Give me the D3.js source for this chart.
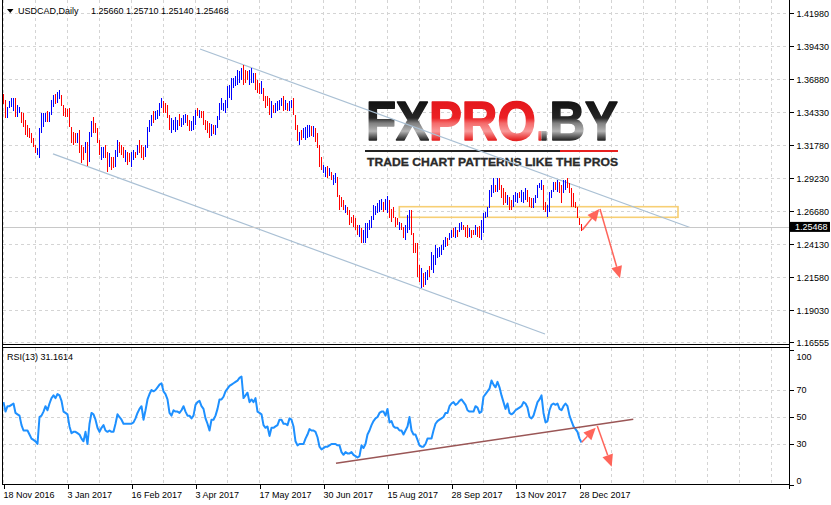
<!DOCTYPE html>
<html><head><meta charset="utf-8">
<script src="https://cdn.jsdelivr.net/npm/d3@7"></script>
<style>body{margin:0;background:#fff}svg{display:block}text{font-family:"Liberation Sans",Arial,sans-serif}</style>
</head><body><svg id="c" width="831" height="505"></svg>
<script>
const symbol = "USDCAD,Daily";
const open = [1.3559,1.3497,1.3404,1.3474,1.3489,1.3466,1.3513,1.3420,1.3435,1.3420,
1.3404,1.3350,1.3312,1.3296,1.3258,1.3219,1.3165,1.3111,1.3134,1.3312,
1.3343,1.3373,1.3428,1.3373,1.3435,1.3497,1.3559,1.3520,1.3551,1.3551,
1.3474,1.3451,1.3443,1.3435,1.3288,1.3258,1.3258,1.3211,1.3258,1.3149,
1.3142,1.3134,1.3157,1.3103,1.3273,1.3366,1.3335,1.3288,1.3196,1.3088,
1.3103,1.3157,1.3088,1.3033,1.3064,1.3072,1.3041,1.3118,1.3188,1.3165,
1.3149,1.3072,1.3103,1.3103,1.3033,1.3080,1.3118,1.3118,1.3196,1.3157,
1.3142,1.3111,1.3196,1.3304,1.3350,1.3420,1.3389,1.3397,1.3428,1.3482,
1.3497,1.3489,1.3466,1.3389,1.3296,1.3312,1.3304,1.3312,1.3397,1.3335,
1.3350,1.3366,1.3389,1.3358,1.3304,1.3319,1.3358,1.3451,1.3404,1.3428,
1.3420,1.3358,1.3343,1.3327,1.3273,1.3319,1.3273,1.3335,1.3404,1.3474,
1.3458,1.3451,1.3505,1.3567,1.3567,1.3636,1.3652,1.3675,1.3683,1.3706,
1.3760,1.3737,1.3737,1.3675,1.3690,1.3675,1.3706,1.3659,1.3644,1.3598,
1.3598,1.3536,1.3543,1.3513,1.3420,1.3474,1.3443,1.3458,1.3466,1.3497,
1.3536,1.3466,1.3489,1.3458,1.3482,1.3513,1.3389,1.3304,1.3203,1.3281,
1.3250,1.3242,1.3258,1.3265,1.3312,1.3265,1.3288,1.3250,1.3142,1.3064,
1.2979,1.2948,1.2995,1.2956,1.2956,1.2887,1.2902,1.2894,1.2763,1.2763,
1.2740,1.2670,1.2686,1.2655,1.2616,1.2616,1.2593,1.2546,1.2492,1.2515,
1.2446,1.2461,1.2485,1.2539,1.2562,1.2631,1.2655,1.2670,1.2686,1.2701,
1.2724,1.2701,1.2686,1.2724,1.2662,1.2686,1.2608,1.2608,1.2539,1.2570,
1.2531,1.2477,1.2531,1.2562,1.2631,1.2461,1.2407,1.2361,1.2222,1.2113,
1.2167,1.2121,1.2152,1.2229,1.2245,1.2222,1.2291,1.2322,1.2330,1.2345,
1.2384,1.2407,1.2446,1.2461,1.2477,1.2523,1.2485,1.2515,1.2523,1.2539,
1.2554,1.2531,1.2539,1.2485,1.2508,1.2515,1.2500,1.2531,1.2531,1.2485,
1.2539,1.2624,1.2639,1.2724,1.2801,1.2840,1.2863,1.2840,1.2902,1.2848,
1.2817,1.2801,1.2732,1.2755,1.2740,1.2724,1.2755,1.2747,1.2809,1.2763,
1.2755,1.2778,1.2809,1.2763,1.2755,1.2709,1.2747,1.2794,1.2856,1.2848,
1.2825,1.2724,1.2647,1.2701,1.2786,1.2832,1.2879,1.2840,1.2871,1.2840,
1.2832,1.2848,1.2910,1.2871,1.2817,1.2786,1.2732,1.2686,1.2608,1.25660];
const high = [1.3574,1.3528,1.3474,1.3520,1.3543,1.3543,1.3543,1.3489,1.3474,1.3435,
1.3428,1.3373,1.3335,1.3312,1.3273,1.3234,1.3180,1.3157,1.3312,1.3428,
1.3428,1.3428,1.3443,1.3435,1.3528,1.3567,1.3574,1.3590,1.3605,1.3567,
1.3489,1.3466,1.3458,1.3466,1.3319,1.3281,1.3273,1.3273,1.3296,1.3180,
1.3165,1.3203,1.3203,1.3281,1.3366,1.3397,1.3350,1.3312,1.3219,1.3165,
1.3165,1.3180,1.3126,1.3118,1.3088,1.3088,1.3142,1.3219,1.3203,1.3180,
1.3165,1.3142,1.3126,1.3118,1.3126,1.3142,1.3126,1.3180,1.3219,1.3180,
1.3165,1.3180,1.3319,1.3373,1.3412,1.3443,1.3443,1.3451,1.3505,1.3543,
1.3520,1.3505,1.3489,1.3412,1.3389,1.3373,1.3397,1.3373,1.3420,1.3389,
1.3412,1.3420,1.3412,1.3373,1.3366,1.3404,1.3451,1.3466,1.3451,1.3443,
1.3443,1.3373,1.3366,1.3350,1.3343,1.3335,1.3335,1.3404,1.3505,1.3543,
1.3505,1.3528,1.3636,1.3644,1.3698,1.3698,1.3714,1.3760,1.3752,1.3775,
1.3799,1.3760,1.3752,1.3760,1.3775,1.3737,1.3737,1.3683,1.3659,1.3675,
1.3621,1.3559,1.3559,1.3543,1.3520,1.3489,1.3505,1.3520,1.3528,1.3543,
1.3559,1.3528,1.3505,1.3520,1.3528,1.3543,1.3412,1.3335,1.3281,1.3296,
1.3312,1.3319,1.3335,1.3335,1.3327,1.3327,1.3312,1.3273,1.3180,1.3088,
1.3026,1.3010,1.3018,1.3003,1.2972,1.2948,1.2964,1.2933,1.2794,1.2778,
1.2755,1.2716,1.2701,1.2678,1.2624,1.2639,1.2616,1.2562,1.2562,1.2539,
1.2523,1.2577,1.2577,1.2600,1.2631,1.2716,1.2709,1.2732,1.2755,1.2763,
1.2740,1.2763,1.2786,1.2755,1.2686,1.2701,1.2624,1.2616,1.2585,1.2577,
1.2546,1.2562,1.2639,1.2678,1.2678,1.2500,1.2423,1.2423,1.2253,1.2229,
1.2191,1.2198,1.2214,1.2245,1.2353,1.2330,1.2407,1.2384,1.2392,1.2407,
1.2446,1.2469,1.2461,1.2500,1.2523,1.2539,1.2546,1.2523,1.2577,1.2585,
1.2562,1.2546,1.2562,1.2539,1.2523,1.2523,1.2562,1.2546,1.2554,1.2600,
1.2655,1.2662,1.2701,1.2832,1.2871,1.2925,1.2871,1.2925,1.2925,1.2871,
1.2848,1.2817,1.2794,1.2778,1.2755,1.2794,1.2817,1.2809,1.2817,1.2832,
1.2817,1.2848,1.2832,1.2778,1.2771,1.2771,1.2794,1.2871,1.2887,1.2910,
1.2871,1.2740,1.2716,1.2817,1.2832,1.2894,1.2894,1.2910,1.2894,1.2871,
1.2910,1.2910,1.2925,1.2887,1.2848,1.2809,1.2740,1.2701,1.2616,1.25710];
const low = [1.3497,1.3389,1.3389,1.3466,1.3474,1.3443,1.3397,1.3397,1.3428,1.3350,
1.3319,1.3258,1.3242,1.3234,1.3196,1.3165,1.3118,1.3103,1.3080,1.3273,
1.3319,1.3358,1.3358,1.3358,1.3412,1.3474,1.3497,1.3505,1.3536,1.3482,
1.3404,1.3397,1.3397,1.3319,1.3196,1.3180,1.3196,1.3196,1.3118,1.3041,
1.3064,1.3118,1.3018,1.3049,1.3242,1.3273,1.3273,1.3196,1.3103,1.3064,
1.3080,1.3080,1.2972,1.3010,1.2987,1.3003,1.3010,1.3088,1.3118,1.3103,
1.3080,1.3049,1.3026,1.3049,1.3010,1.3064,1.3080,1.3103,1.3118,1.3080,
1.3064,1.3088,1.3157,1.3281,1.3327,1.3350,1.3373,1.3381,1.3404,1.3466,
1.3428,1.3428,1.3389,1.3296,1.3273,1.3296,1.3281,1.3296,1.3327,1.3319,
1.3335,1.3350,1.3327,1.3288,1.3288,1.3296,1.3335,1.3404,1.3389,1.3389,
1.3335,1.3296,1.3273,1.3234,1.3250,1.3265,1.3258,1.3312,1.3373,1.3451,
1.3443,1.3428,1.3466,1.3543,1.3528,1.3621,1.3636,1.3644,1.3659,1.3683,
1.3644,1.3659,1.3683,1.3644,1.3659,1.3659,1.3605,1.3582,1.3574,1.3574,
1.3520,1.3466,1.3482,1.3412,1.3389,1.3428,1.3428,1.3443,1.3451,1.3482,
1.3443,1.3451,1.3443,1.3443,1.3466,1.3412,1.3296,1.3211,1.3180,1.3219,
1.3234,1.3219,1.3234,1.3242,1.3250,1.3242,1.3203,1.3157,1.3010,1.2987,
1.2964,1.2933,1.2925,1.2941,1.2910,1.2871,1.2887,1.2778,1.2678,1.2701,
1.2678,1.2655,1.2639,1.2562,1.2577,1.2546,1.2523,1.2485,1.2469,1.2423,
1.2423,1.2423,1.2461,1.2523,1.2539,1.2600,1.2639,1.2655,1.2662,1.2678,
1.2662,1.2678,1.2655,1.2616,1.2585,1.2616,1.2546,1.2562,1.2523,1.2523,
1.2461,1.2446,1.2500,1.2523,1.2485,1.2345,1.2345,1.2160,1.2121,1.2075,
1.2082,1.2098,1.2137,1.2160,1.2214,1.2191,1.2253,1.2307,1.2315,1.2330,
1.2369,1.2392,1.2400,1.2446,1.2461,1.2469,1.2461,1.2469,1.2508,1.2523,
1.2523,1.2469,1.2461,1.2469,1.2461,1.2485,1.2485,1.2469,1.2461,1.2446,
1.2500,1.2616,1.2624,1.2693,1.2778,1.2809,1.2817,1.2817,1.2832,1.2771,
1.2716,1.2732,1.2716,1.2678,1.2678,1.2701,1.2740,1.2732,1.2771,1.2740,
1.2732,1.2755,1.2740,1.2701,1.2693,1.2693,1.2732,1.2771,1.2848,1.2832,
1.2678,1.2662,1.2624,1.2662,1.2771,1.2817,1.2832,1.2817,1.2809,1.2732,
1.2809,1.2832,1.2848,1.2809,1.2701,1.2701,1.2693,1.2616,1.2562,1.25140];
const close = [1.3513,1.3420,1.3458,1.3513,1.3528,1.3520,1.3428,1.3466,1.3466,1.3366,
1.3343,1.3281,1.3265,1.3250,1.3211,1.3180,1.3134,1.3142,1.3258,1.3389,
1.3404,1.3412,1.3373,1.3420,1.3505,1.3543,1.3513,1.3574,1.3590,1.3497,
1.3420,1.3412,1.3412,1.3350,1.3227,1.3203,1.3211,1.3258,1.3157,1.3072,
1.3088,1.3188,1.3064,1.3227,1.3335,1.3304,1.3288,1.3219,1.3126,1.3142,
1.3142,1.3103,1.3010,1.3095,1.3010,1.3018,1.3111,1.3188,1.3134,1.3118,
1.3095,1.3118,1.3049,1.3064,1.3103,1.3126,1.3088,1.3165,1.3142,1.3103,
1.3088,1.3157,1.3281,1.3350,1.3397,1.3373,1.3428,1.3435,1.3482,1.3528,
1.3451,1.3443,1.3412,1.3319,1.3366,1.3358,1.3373,1.3358,1.3350,1.3373,
1.3397,1.3404,1.3350,1.3304,1.3350,1.3381,1.3428,1.3420,1.3435,1.3404,
1.3358,1.3312,1.3296,1.3258,1.3319,1.3281,1.3319,1.3381,1.3474,1.3520,
1.3489,1.3505,1.3598,1.3621,1.3659,1.3683,1.3698,1.3737,1.3729,1.3752,
1.3683,1.3683,1.3698,1.3737,1.3744,1.3721,1.3636,1.3605,1.3590,1.3652,
1.3543,1.3489,1.3497,1.3443,1.3489,1.3443,1.3489,1.3505,1.3513,1.3528,
1.3466,1.3513,1.3458,1.3505,1.3513,1.3443,1.3319,1.3242,1.3258,1.3234,
1.3296,1.3296,1.3312,1.3312,1.3265,1.3304,1.3227,1.3180,1.3049,1.3010,
1.3010,1.2995,1.2948,1.2987,1.2925,1.2933,1.2948,1.2817,1.2709,1.2716,
1.2693,1.2701,1.2655,1.2585,1.2585,1.2570,1.2546,1.2500,1.2539,1.2446,
1.2500,1.2539,1.2554,1.2585,1.2608,1.2686,1.2693,1.2716,1.2732,1.2747,
1.2678,1.2747,1.2755,1.2647,1.2608,1.2631,1.2562,1.2570,1.2570,1.2531,
1.2477,1.2531,1.2608,1.2639,1.2531,1.2384,1.2361,1.2222,1.2152,1.2191,
1.2106,1.2175,1.2198,1.2175,1.2322,1.2299,1.2369,1.2369,1.2376,1.2392,
1.2430,1.2454,1.2415,1.2485,1.2508,1.2485,1.2523,1.2485,1.2562,1.2570,
1.2531,1.2485,1.2485,1.2523,1.2477,1.2492,1.2546,1.2485,1.2485,1.2562,
1.2616,1.2655,1.2686,1.2801,1.2848,1.2902,1.2832,1.2902,1.2856,1.2794,
1.2747,1.2747,1.2778,1.2701,1.2693,1.2771,1.2801,1.2794,1.2778,1.2809,
1.2794,1.2825,1.2763,1.2716,1.2709,1.2755,1.2778,1.2848,1.2879,1.2894,
1.2724,1.2678,1.2693,1.2778,1.2817,1.2879,1.2848,1.2887,1.2832,1.2763,
1.2887,1.2894,1.2863,1.2825,1.2732,1.2724,1.2701,1.2631,1.2570,1.25468];
const rsi = [61,54,58,58,59,60,53,52,51,44,
40,40,40,37,34,33,32,30,50,51,
54,58,55,60,64,66,64,67,66,62,
54,53,52,43,38,39,39,38,37,34,
32,39,30,45,53,52,48,42,39,42,
44,40,39,40,39,39,45,52,50,48,
45,45,45,45,45,46,49,53,56,58,
48,55,63,67,70,69,70,72,74,75,
69,67,63,53,51,55,54,54,53,55,
58,54,51,51,49,51,59,61,62,58,
56,49,45,40,48,48,51,56,63,63,
65,69,71,73,74,75,76,77,79,80,
64,66,68,61,63,61,64,54,53,52,
44,42,43,36,42,42,43,44,48,48,
45,45,44,49,48,43,32,29,30,30,
30,34,37,41,40,40,39,35,28,26,
27,28,28,29,30,30,30,29,29,24,
22,24,23,23,24,22,21,20,21,29,
27,30,37,40,44,47,49,50,53,54,
54,51,56,46,47,43,42,42,40,40,
37,40,43,50,40,37,37,33,29,28,
28,30,34,34,34,40,45,47,48,49,
50,53,53,58,60,61,59,60,62,63,
61,59,55,54,54,54,58,57,53,54,
65,67,69,71,77,74,72,76,72,66,
61,56,60,53,52,53,55,56,57,58,
61,60,57,50,49,51,56,61,63,66,
53,46,47,55,59,60,59,60,56,55,
58,60,58,51,47,43,41,39,34,31.1614];
const dateLabels = ["18 Nov 2016","3 Jan 2017","16 Feb 2017","3 Apr 2017","17 May 2017","30 Jun 2017","15 Aug 2017","28 Sep 2017","13 Nov 2017","28 Dec 2017"];
const dateTickIdx = [0,32,64,96,128,160,192,224,256,288];
const priceTicks = [1.41980,1.39430,1.36880,1.34330,1.31780,1.29230,1.26680,1.24130,1.21580,1.19030,1.16555];
const rsiTicks = [100,70,50,30,0];
const rsiGrid = [70,50,30];
// drawn objects, in bar-index / price units
const channel = [{i0:98.25,p0:1.3922,i1:343.25,p1:1.2542},{i0:24.75,p0:1.3111,i1:270.75,p1:1.1719}];
const zone = {i0:197.9,i1:337.25,p0:1.2703,p1:1.2621};
const priceArrows = [{i0:289.4,p0:1.2523,i1:297.9,p1:1.2685},{i0:298.25,p0:1.2685,i1:308.25,p1:1.2150}];
const rsiLine = {i0:166.25,v0:15.7,i1:314.9,v1:48.3};
const rsiArrows = [{i0:289.1,v0:31.3,i1:296.1,v1:42.1},{i0:296.9,v0:43.3,i1:304.1,v1:13.2}];

const svg = d3.select("#c");
const L = 2.5, R = 789.5, mainBot = 344.5, rsiTop = 347.5, rsiBot = 484.5;
const x = d3.scaleLinear().domain([0, close.length - 1]).range([3.5, 3.5 + 2 * (close.length - 1)]);
const y = d3.scaleLinear().domain([1.41980, 1.16555]).range([13.3, 342.2]);
const yR = d3.scaleLinear().domain([0, 100]).range([484.5, 349.5]);
const f5 = d3.format(".5f");

const defs = svg.append("defs");
const gd = defs.append("linearGradient").attr("id","gDark").attr("gradientUnits","userSpaceOnUse").attr("x1",0).attr("y1",100).attr("x2",0).attr("y2",140);
[[0,"#111"],[0.45,"#262626"],[0.58,"#808080"],[0.78,"#b4b4b4"],[1,"#262626"]].forEach(s=>gd.append("stop").attr("offset",s[0]).attr("stop-color",s[1]));
const gr = defs.append("linearGradient").attr("id","gRed").attr("gradientUnits","userSpaceOnUse").attr("x1",0).attr("y1",100).attr("x2",0).attr("y2",140);
[[0,"#e3161b"],[0.45,"#ec2124"],[0.58,"#f46a6a"],[0.78,"#f99a9a"],[1,"#e52222"]].forEach(s=>gr.append("stop").attr("offset",s[0]).attr("stop-color",s[1]));
// logo paint: dark "FX", red "PRO", dark ".BY"
const pat = defs.append("pattern").attr("id","logoPaint").attr("patternUnits","userSpaceOnUse").attr("x",0).attr("y",0).attr("width",831).attr("height",505);
pat.append("rect").attr("x",0).attr("y",0).attr("width",429.5).attr("height",505).attr("fill","url(#gDark)");
pat.append("rect").attr("x",429.5).attr("y",0).attr("width",112).attr("height",505).attr("fill","url(#gRed)");
pat.append("rect").attr("x",541.5).attr("y",0).attr("width",290).attr("height",505).attr("fill","url(#gDark)");

// grid
const grid = svg.append("g").attr("stroke","#d4d4d4").attr("stroke-dasharray","3,3").attr("shape-rendering","crispEdges");
priceTicks.forEach(p => { const yy = Math.round(y(p)) + 0.5; grid.append("line").attr("x1",L).attr("x2",R).attr("y1",yy).attr("y2",yy); });
rsiGrid.forEach(v => { const yy = Math.round(yR(v)) + 0.5; grid.append("line").attr("x1",L).attr("x2",R).attr("y1",yy).attr("y2",yy); });
d3.range(0, 385, 16).forEach(i => {
  const xx = x(i);
  grid.append("line").attr("x1",xx).attr("x2",xx).attr("y1",0).attr("y2",mainBot);
  grid.append("line").attr("x1",xx).attr("x2",xx).attr("y1",rsiTop).attr("y2",rsiBot);
});

// logo watermark
const logo = svg.append("g");
logo.append("text").attr("x",366).attr("y",140).attr("font-size",56).attr("font-weight","bold")
  .attr("fill","url(#logoPaint)").attr("stroke","url(#logoPaint)").attr("stroke-width",1.6).attr("stroke-linejoin","round")
  .attr("textLength",252).attr("lengthAdjust","spacingAndGlyphs").text("FXPRO.BY");
logo.append("rect").attr("x",365).attr("y",150).attr("width",195).attr("height",2).attr("fill","#222");
logo.append("rect").attr("x",560).attr("y",150).attr("width",58).attr("height",2).attr("fill","#e8201e");
logo.append("text").attr("x",367).attr("y",165.5).attr("font-size",11).attr("font-weight","bold").attr("fill","#2a2a2a")
  .attr("stroke","#2a2a2a").attr("stroke-width",0.3)
  .attr("textLength",251).attr("lengthAdjust","spacingAndGlyphs").text("TRADE CHART PATTERNS LIKE THE PROS");

// objects
svg.append("rect").attr("x",x(zone.i0)).attr("y",y(zone.p0)).attr("width",x(zone.i1)-x(zone.i0)).attr("height",y(zone.p1)-y(zone.p0))
  .attr("fill","none").attr("stroke","#f7cf74").attr("stroke-width",1.6);
channel.forEach(c => svg.append("line").attr("x1",x(c.i0)).attr("y1",y(c.p0)).attr("x2",x(c.i1)).attr("y2",y(c.p1)).attr("stroke","#aac0d4").attr("stroke-width",1.2));
// bid line
const bidY = Math.round(y(close[close.length-1])) + 0.5;
svg.append("line").attr("x1",L).attr("x2",R).attr("y1",bidY).attr("y2",bidY).attr("stroke","#c8c8c8").attr("shape-rendering","crispEdges");

// bars (high-low lines coloured by direction)
svg.append("g").attr("shape-rendering","crispEdges").selectAll("rect").data(close).join("rect")
  .attr("x",(d,i)=>x(i)-0.5).attr("width",1)
  .attr("y",(d,i)=>Math.round(y(high[i]))).attr("height",(d,i)=>Math.max(1, Math.round(y(low[i]))-Math.round(y(high[i]))))
  .attr("fill",(d,i)=> d >= open[i] ? "#0000ff" : "#ff0000");

// RSI
svg.append("path").datum(rsi).attr("fill","none").attr("stroke","#1e90ff").attr("stroke-width",2).attr("stroke-linejoin","round")
  .attr("d", d3.line().x((d,i)=>x(i)).y(d=>yR(d)));
svg.append("line").attr("x1",x(rsiLine.i0)).attr("y1",yR(rsiLine.v0)).attr("x2",x(rsiLine.i1)).attr("y2",yR(rsiLine.v1)).attr("stroke","#9a5656").attr("stroke-width",1.5);

function arrow(x0,y0,x1,y1){
  const a = Math.atan2(y1-y0, x1-x0), len = 12, w = 5.5;
  const bx = x1 - len*Math.cos(a), by = y1 - len*Math.sin(a);
  const g = svg.append("g").attr("fill","#ff5d52").attr("stroke","#ff5d52").attr("opacity",0.95);
  g.append("line").attr("x1",x0).attr("y1",y0).attr("x2",bx).attr("y2",by).attr("stroke-width",1.5);
  g.append("path").attr("stroke","none").attr("d",`M${x1},${y1}L${bx + w*Math.sin(a)},${by - w*Math.cos(a)}L${bx - w*Math.sin(a)},${by + w*Math.cos(a)}Z`);
}
priceArrows.forEach(a => arrow(x(a.i0),y(a.p0),x(a.i1),y(a.p1)));
rsiArrows.forEach(a => arrow(x(a.i0),yR(a.v0),x(a.i1),yR(a.v1)));

// frame
const fr = svg.append("g").attr("stroke","#000").attr("shape-rendering","crispEdges");
fr.append("line").attr("x1",L).attr("x2",L).attr("y1",0).attr("y2",rsiBot);
fr.append("line").attr("x1",R).attr("x2",R).attr("y1",0).attr("y2",rsiBot+4);
fr.append("line").attr("x1",L).attr("x2",R).attr("y1",mainBot).attr("y2",mainBot);
fr.append("line").attr("x1",L).attr("x2",R).attr("y1",rsiTop).attr("y2",rsiTop);
fr.append("line").attr("x1",L).attr("x2",R).attr("y1",rsiBot).attr("y2",rsiBot);

// axes
const pa = svg.append("g").attr("transform",`translate(${R},0)`)
  .call(d3.axisRight(y).tickValues(priceTicks).tickFormat(f5).tickSize(4).tickPadding(3));
pa.select(".domain").remove();
pa.selectAll("text").attr("font-size",9).attr("font-family","Liberation Sans, Arial, sans-serif");
pa.selectAll("line").attr("shape-rendering","crispEdges");

const ra = svg.append("g").attr("transform",`translate(${R},0)`)
  .call(d3.axisRight(yR).tickValues(rsiTicks).tickSize(4).tickPadding(3));
ra.select(".domain").remove();
ra.selectAll("text").attr("font-size",9).attr("font-family","Liberation Sans, Arial, sans-serif")
  .attr("dy", d => d === 100 ? "1.1em" : d === 0 ? "-0.1em" : "0.32em");
ra.selectAll("line").attr("shape-rendering","crispEdges");

const xa = svg.append("g").attr("transform",`translate(0,${rsiBot})`)
  .call(d3.axisBottom(x).tickValues(dateTickIdx).tickFormat((d,i)=>dateLabels[i]).tickSize(4).tickPadding(3));
xa.select(".domain").remove();
xa.selectAll("text").attr("font-size",9).attr("text-anchor","start").attr("x",-0.5).attr("font-family","Liberation Sans, Arial, sans-serif");
xa.selectAll("line").attr("shape-rendering","crispEdges");

// current price label
const lastC = close[close.length-1];
svg.append("rect").attr("x",790).attr("y",y(lastC)-5).attr("width",40).attr("height",10).attr("fill","#000");
svg.append("text").attr("x",795).attr("y",y(lastC)+3.3).attr("font-size",9).attr("fill","#fff").text(f5(lastC));

// header
const n = close.length - 1;
svg.append("path").attr("d","M7,9L13.5,9L10.25,13Z").attr("fill","#000");
svg.append("text").attr("x",18).attr("y",14).attr("font-size",9).text(symbol);
svg.append("text").attr("x",91).attr("y",14).attr("font-size",9).text([open[n],high[n],low[n],close[n]].map(f5).join(" "));
svg.append("text").attr("x",7).attr("y",360).attr("font-size",9).text("RSI(13) " + d3.format(".4f")(rsi[n]));
</script></body></html>
